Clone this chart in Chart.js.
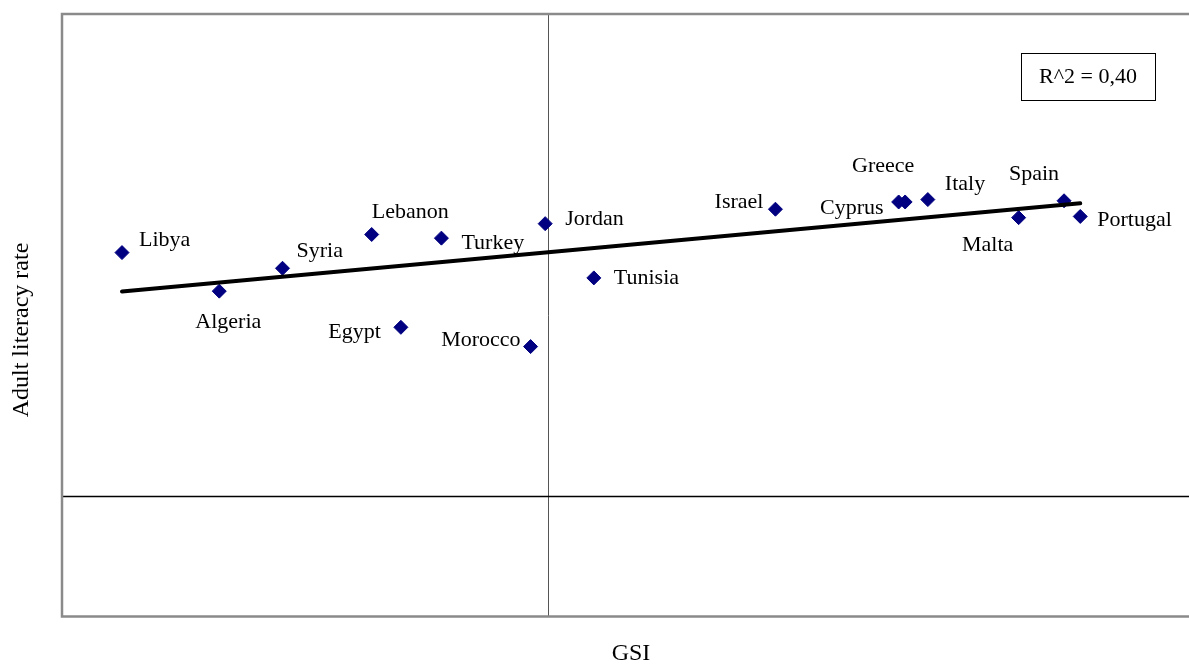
<!DOCTYPE html>
<html>
<head>
<meta charset="utf-8">
<script src="https://cdn.jsdelivr.net/npm/chart.js@4/dist/chart.umd.min.js"></script>
<style>
  html, body { margin: 0; padding: 0; background: #fff; overflow: hidden; }
  #wrap { width: 1189px; height: 665px; overflow: hidden; }
  canvas { display: block; }
</style>
</head>
<body>
<div id="wrap"><canvas id="c" width="1205" height="665"></canvas></div>
<script>
// Mediterranean countries: GSI against adult literacy rate (standardised scores)
const countries = ['Libya', 'Algeria', 'Syria', 'Lebanon', 'Egypt', 'Turkey', 'Morocco', 'Jordan',
  'Tunisia', 'Israel', 'Cyprus', 'Greece', 'Italy', 'Malta', 'Spain', 'Portugal'];
const gsi = [-2.63, -2.03, -1.64, -1.09, -0.91, -0.66, -0.11, -0.02,
  0.28, 1.40, 2.16, 2.20, 2.34, 2.90, 3.18, 3.28];
const literacy = [2.02, 1.70, 1.89, 2.17, 1.40, 2.14, 1.24, 2.26,
  1.81, 2.38, 2.44, 2.44, 2.46, 2.31, 2.45, 2.32];
const rSquaredText = 'R^2 = 0,40';
const xTitle = 'GSI';
const yTitle = 'Adult literacy rate';

// Axis extents
const xRange = [-3, 4];
const yRange = [-1, 4];

// Where each country name sits relative to its marker (px offset, alignment)
const labelPlacement = {
  Libya: [17, -12, 'left'], Algeria: [9, 31, 'center'], Syria: [14, -17, 'left'],
  Lebanon: [0, -22, 'left'], Egypt: [-20, 5, 'right'], Turkey: [20, 5, 'left'],
  Morocco: [-10, -6, 'right'], Jordan: [20, -4, 'left'], Tunisia: [20, 0, 'left'],
  Israel: [-12, -7, 'right'], Cyprus: [-15, 6, 'right'], Greece: [-22, -36, 'center'],
  Italy: [17, -15, 'left'], Malta: [-31, 28, 'center'], Spain: [-30, -27, 'center'],
  Portugal: [17, 4, 'left']
};

const points = gsi.map((x, i) => ({ x: x, y: literacy[i] }));

// Ordinary least-squares trend line across the observed GSI range
const n = gsi.length;
const mx = gsi.reduce((a, b) => a + b, 0) / n;
const my = literacy.reduce((a, b) => a + b, 0) / n;
let sxy = 0, sxx = 0;
for (let i = 0; i < n; i++) { sxy += (gsi[i] - mx) * (literacy[i] - my); sxx += (gsi[i] - mx) ** 2; }
const slope = sxy / sxx;
const intercept = my - slope * mx;
const xMin = Math.min(...gsi), xMax = Math.max(...gsi);
const trend = [{ x: xMin, y: intercept + slope * xMin }, { x: xMax, y: intercept + slope * xMax }];

const serif = "'Liberation Serif', 'Times New Roman', serif";

const framePlugin = {
  id: 'frame',
  beforeDatasetsDraw(chart) {
    const { ctx, chartArea: a, scales } = chart;
    const x0 = scales.x.getPixelForValue(0);
    const y0 = scales.y.getPixelForValue(0);
    ctx.save();
    // zero lines
    ctx.lineWidth = 1;
    ctx.strokeStyle = '#555';
    ctx.beginPath();
    ctx.moveTo(Math.round(x0) + 0.5, a.top);
    ctx.lineTo(Math.round(x0) + 0.5, a.bottom);
    ctx.stroke();
    ctx.strokeStyle = '#000';
    ctx.lineWidth = 1.5;
    ctx.beginPath();
    ctx.moveTo(a.left, Math.round(y0) + 0.5);
    ctx.lineTo(a.right, Math.round(y0) + 0.5);
    ctx.stroke();
    // plot frame
    ctx.strokeStyle = '#8a8a8a';
    ctx.lineWidth = 2.5;
    ctx.strokeRect(a.left, a.top, a.right - a.left, a.bottom - a.top);
    ctx.restore();
  },
  afterDatasetsDraw(chart) {
    const { ctx, chartArea: a } = chart;
    const meta = chart.getDatasetMeta(0);
    ctx.save();
    ctx.fillStyle = '#000';
    ctx.font = '22px ' + serif;
    ctx.textBaseline = 'middle';
    meta.data.forEach((el, i) => {
      const p = labelPlacement[countries[i]];
      ctx.textAlign = p[2];
      ctx.fillText(countries[i], el.x + p[0], el.y + p[1]);
    });
    // R-squared box
    ctx.strokeStyle = '#000';
    ctx.lineWidth = 1;
    ctx.fillStyle = '#fff';
    ctx.fillRect(1021, 53, 134, 47);
    ctx.strokeRect(1021.5, 53.5, 134, 47);
    ctx.fillStyle = '#000';
    ctx.textAlign = 'center';
    ctx.fillText(rSquaredText, 1088, 77);
    // axis titles
    ctx.font = '24px ' + serif;
    ctx.fillText(xTitle, 631, 654);
    ctx.translate(22, 330);
    ctx.rotate(-Math.PI / 2);
    ctx.fillText(yTitle, 0, 0);
    ctx.restore();
  }
};

new Chart(document.getElementById('c'), {
  data: {
    datasets: [
      {
        type: 'scatter',
        label: 'Countries',
        data: points,
        pointStyle: 'rectRot',
        pointRadius: 7,
        pointHoverRadius: 7,
        backgroundColor: '#000080',
        borderColor: '#000080',
        borderWidth: 1,
        order: 1
      },
      {
        type: 'line',
        label: 'Trend',
        data: trend,
        borderColor: '#000',
        borderWidth: 4,
        borderCapStyle: 'round',
        pointRadius: 0,
        fill: false,
        order: 0
      }
    ]
  },
  options: {
    responsive: false,
    animation: false,
    events: [],
    layout: { padding: { left: 62, top: 14, right: 4, bottom: 48.5 } },
    plugins: { legend: { display: false }, tooltip: { enabled: false } },
    scales: {
      x: { type: 'linear', min: xRange[0], max: xRange[1], display: false },
      y: { type: 'linear', min: yRange[0], max: yRange[1], display: false }
    }
  },
  plugins: [framePlugin]
});
</script>
</body>
</html>
